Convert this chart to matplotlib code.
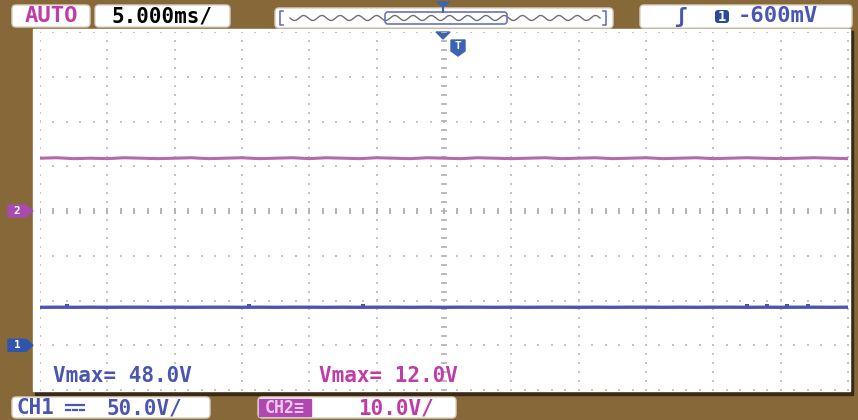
import numpy as np
import matplotlib.pyplot as plt
from matplotlib.patches import FancyBboxPatch, Rectangle, Polygon

# scope settings
time_per_div = 5.0      # ms/div
ch1_scale = 50.0        # V/div
ch2_scale = 10.0        # V/div
ch1_offset = -3.0       # ground marker position (div)
ch2_offset = 0.0

# sampled traces, one value every 1.25 ms from -30 ms to +30 ms
ch1_volts = [42.4, 42.5, 42.4, 42.5, 42.4, 42.5, 42.5, 42.4, 42.5, 42.4,
             42.5, 42.5, 42.4, 42.5, 42.4, 42.5, 42.5, 42.4, 42.5, 42.4,
             42.5, 42.5, 42.4, 42.5, 42.4, 42.5, 42.5, 42.4, 42.5, 42.4,
             42.5, 42.5, 42.4, 42.5, 42.4, 42.5, 42.5, 42.4, 42.5, 42.4,
             42.5, 42.5, 42.4, 42.5, 42.4, 42.5, 42.5, 42.4, 42.5]
ch2_volts = [11.8, 11.9, 11.7, 11.8, 11.7, 11.9, 11.8, 11.7, 11.8, 11.9,
             11.7, 11.8, 11.9, 11.7, 11.8, 11.9, 11.7, 11.9, 11.8, 11.7,
             11.9, 11.8, 11.7, 11.9, 11.8, 11.7, 11.9, 11.8, 11.7, 11.8,
             11.9, 11.7, 11.8, 11.9, 11.7, 11.8, 11.9, 11.7, 11.8, 11.9,
             11.7, 11.8, 11.9, 11.8, 11.7, 11.8, 11.9, 11.8, 11.7]
# short glitches on ch1 (time ms, volts)
ch1_spike_t = [-28.0, -14.5, -6.0, 22.5, 24.0, 25.5, 27.0]
ch1_spike_v = [43.6, 43.6, 43.8, 43.6, 43.8, 43.6, 43.5]

ch1_vmax = "48.0V"
ch2_vmax = "12.0V"
trig_level = "-600mV"
timebase = "5.000ms/"
ch1_label = "50.0V/"
ch2_label = "10.0V/"

BROWN = '#876838'
BLUE = '#4b56b2'
PINK = '#b46aac'
MAG = '#c03ca8'
GRID = '#c4c4c4'
MONO = ['DejaVu Sans Mono', 'DejaVu Sans', 'Noto Sans']

W, H = 858, 420
fig = plt.figure(figsize=(W / 100, H / 100), dpi=100)
fig.patch.set_facecolor(BROWN)

# pixel overlay for the frame and labels
bg = fig.add_axes([0, 0, 1, 1])
bg.set_xlim(0, W)
bg.set_ylim(H, 0)
bg.axis('off')

# screen area with shadow
bg.add_patch(Rectangle((35, 31), 818, 364, color='#3a2a14', zorder=1))
bg.add_patch(Rectangle((33, 29), 817, 362, color='white', zorder=2))


def box(x0, y0, w, h, fc='white', ec='#d8d0c0'):
    bg.add_patch(FancyBboxPatch((x0, y0), w, h, boxstyle='round,pad=0,rounding_size=4',
                                fc=fc, ec=ec, lw=1, zorder=3))


txt = dict(family=MONO, fontweight='bold', fontsize=15, va='center', zorder=5)

# top bar
box(12, 5, 78, 22)
bg.text(51, 16, "AUTO", color=MAG, ha='center', **dict(txt, fontsize=16))
box(95, 5, 135, 22)
bg.text(162, 16, timebase, color='black', ha='center', **txt)

box(275, 8, 338, 20)
xs = np.linspace(290, 600, 400)
bg.plot(xs, 18 + 2.5 * np.sin((xs - 290) / 310 * 2 * np.pi * 17), color='#707070', lw=1, zorder=4)
bg.add_patch(FancyBboxPatch((385, 12), 122, 12, boxstyle='round,pad=0,rounding_size=3',
                            fc='none', ec='#6a72c0', lw=1.2, zorder=5))
bg.plot([283, 280, 280, 283], [11, 11, 25, 25], color='#6a72c0', lw=1.2, zorder=5)
bg.plot([603, 606, 606, 603], [11, 11, 25, 25], color='#6a72c0', lw=1.2, zorder=5)
bg.add_patch(Polygon([[437, 2], [449, 2], [443, 7]], color='#3c64b4', zorder=6))
bg.plot([443, 443], [6, 12], color='#3c64b4', lw=1.5, zorder=6)

box(640, 5, 212, 23)
bg.text(680, 17, "\u0283", color=BLUE, ha='center', **txt)
bg.add_patch(FancyBboxPatch((715, 10), 14, 13, boxstyle='round,pad=0,rounding_size=3',
                            fc='#2a4a9a', ec='none', zorder=5))
bg.text(722, 17, "1", color='white', ha='center', family=MONO, fontweight='bold',
        fontsize=10, va='center', zorder=6)
bg.text(738, 16, trig_level, color=BLUE, ha='left', **dict(txt, fontsize=16))

# bottom bar
box(12, 397, 198, 21)
bg.text(17, 408, "CH1", color=BLUE, ha='left', **txt)
# DC coupling sign: solid bar over dashed bar
bg.plot([66, 84], [405, 405], color=BLUE, lw=1.6, zorder=5)
for x0 in (66, 73, 80):
    bg.plot([x0, x0 + 4], [410, 410], color=BLUE, lw=1.6, zorder=5)
bg.text(106, 408, ch1_label, color=BLUE, ha='left', **txt)
box(258, 397, 198, 21)
bg.add_patch(Rectangle((259, 399), 52, 17, color='#b048b0', zorder=4))
bg.text(285, 408, "CH2\u2261", color='#f0c8f0', ha='center', family=MONO,
        fontweight='bold', fontsize=12, va='center', zorder=5)
bg.text(358, 408, ch2_label, color=MAG, ha='left', **txt)

# screen grid (divisions)
ax = fig.add_axes([40 / W, 1 - 390 / H, 808 / W, 358 / H])
ax.set_xlim(-6, 6)
ax.set_ylim(-4, 4)
ax.axis('off')
ax.patch.set_alpha(0)

sub = np.arange(-4, 4.01, 0.2)
for k in range(-6, 7):
    ax.scatter(np.full(sub.size, k), sub, s=1.6, c=GRID, marker='s', lw=0, zorder=2)
subx = np.arange(-6, 6.01, 0.2)
for m in range(-4, 5):
    ax.scatter(subx, np.full(subx.size, m), s=1.6, c=GRID, marker='s', lw=0, zorder=2)
# center cross tick marks
ax.scatter(np.zeros(sub.size), sub, s=25, c='#b4b4b4', marker='_', lw=1.2, zorder=2)
ax.scatter(subx, np.zeros(subx.size), s=16, c='#b4b4b4', marker='|', lw=1.4, zorder=2)

# traces
t = np.linspace(-30, 30, len(ch1_volts))
ch1_y = np.array(ch1_volts) / ch1_scale + ch1_offset
ch2_y = np.array(ch2_volts) / ch2_scale + ch2_offset
ax.plot(t / time_per_div, ch2_y, color=PINK, lw=2.2, zorder=4)
ax.plot(t / time_per_div, ch1_y, color=BLUE, lw=2.4, zorder=4)
ax.scatter(np.array(ch1_spike_t) / time_per_div,
           np.array(ch1_spike_v) / ch1_scale + ch1_offset,
           s=8, c=BLUE, marker='s', lw=0, zorder=4)

# measurements
ax.text(-5.8, -3.68, "Vmax= " + ch1_vmax, color=BLUE, ha='left', **txt)
ax.text(-1.85, -3.68, "Vmax= " + ch2_vmax, color=MAG, ha='left', **txt)

# channel ground markers on the left edge
for y_div, col, lab in [(ch2_offset, '#a84ab0', '2'), (ch1_offset, '#2f55b0', '1')]:
    yp = 211 - y_div * 44.75
    bg.add_patch(Polygon([[8, yp - 6], [26, yp - 6], [33, yp], [26, yp + 6], [8, yp + 6]],
                         color=col, zorder=6))
    bg.text(17, yp, lab, color='white', ha='center', va='center', family=MONO,
            fontweight='bold', fontsize=8, zorder=7)

# trigger position / T badge
bg.add_patch(Polygon([[436, 32], [450, 32], [443, 39]], color='#3c64b4', zorder=6))
bg.add_patch(Polygon([[451, 40], [465, 40], [465, 51], [458, 56], [451, 51]],
                     color='#3c64b4', zorder=6))
bg.text(458, 46, "T", color='white', ha='center', va='center', family=MONO,
        fontweight='bold', fontsize=8, zorder=7)

fig.savefig('out.png', dpi=100, facecolor=BROWN)
